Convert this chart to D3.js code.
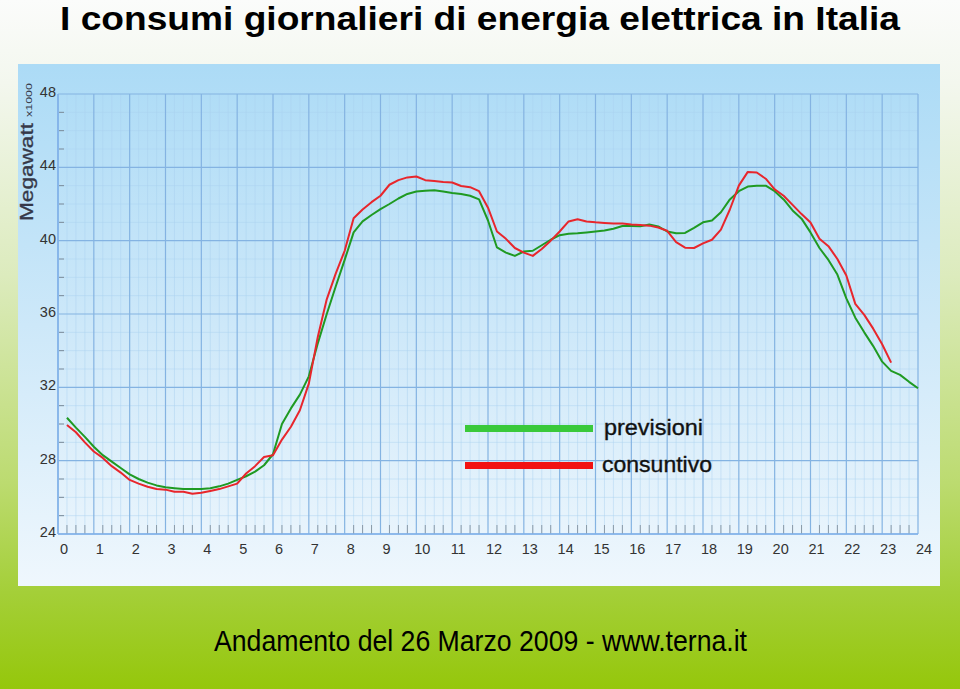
<!DOCTYPE html>
<html><head><meta charset="utf-8">
<script src="https://cdn.jsdelivr.net/npm/d3@7"></script>
<style>html,body{margin:0;padding:0;}svg{display:block;}</style>
</head><body>
<script>
// ---- data (MW x1000), one value every 15 minutes starting 00:15 ----
const quarterStep = 0.25;
const previsioni = [
30.34,29.8,29.3,28.76,28.3,27.95,27.6,27.25,27.0,26.8,26.65,26.55,26.5,26.45,26.45,26.45,
26.5,26.6,26.75,26.95,27.15,27.4,27.75,28.35,30.0,30.85,31.6,32.6,34.4,36.0,37.5,38.95,
40.45,41.05,41.4,41.72,42.0,42.3,42.55,42.68,42.72,42.75,42.68,42.6,42.55,42.45,42.25,41.1,
39.63,39.35,39.17,39.41,39.45,39.75,40.05,40.3,40.38,40.4,40.45,40.5,40.55,40.65,40.8,40.8,
40.78,40.88,40.78,40.5,40.4,40.42,40.7,41.0,41.1,41.55,42.25,42.7,42.95,43.0,43.0,42.7,
42.25,41.65,41.2,40.45,39.6,38.95,38.15,36.85,35.8,35.0,34.25,33.4,32.9,32.68,32.3,31.95];
const consuntivo = [
29.95,29.55,29.0,28.5,28.15,27.7,27.35,26.95,26.75,26.58,26.45,26.42,26.3,26.3,26.2,26.25,
26.35,26.45,26.6,26.75,27.3,27.7,28.2,28.3,29.15,29.85,30.75,32.2,34.75,36.8,38.2,39.45,
41.22,41.7,42.1,42.45,43.05,43.3,43.45,43.5,43.3,43.25,43.2,43.17,42.98,42.92,42.7,41.8,
40.5,40.1,39.6,39.35,39.17,39.55,40.0,40.5,41.05,41.17,41.05,41.0,40.97,40.94,40.94,40.88,
40.86,40.82,40.72,40.54,39.92,39.62,39.6,39.85,40.05,40.6,41.7,43.0,43.75,43.72,43.38,42.8,
42.45,41.95,41.45,40.99,40.1,39.7,39.0,38.1,36.55,35.95,35.2,34.35,33.35];
const hourTicks = [0,1,2,3,4,5,6,7,8,9,10,11,12,13,14,15,16,17,18,19,20,21,22,23,24];
const yTicks = [24,28,32,36,40,44,48];
const seriesNames = ["previsioni","consuntivo"];
const titleText = "I consumi giornalieri di energia elettrica in Italia";
const footerText = "Andamento del 26 Marzo 2009 - www.terna.it";

const W = 960, H = 689;
const svg = d3.select("body").append("svg").attr("width", W).attr("height", H);
const defs = svg.append("defs");

const bg = defs.append("linearGradient").attr("id","bg").attr("x1",0).attr("y1",0).attr("x2",0).attr("y2",1);
[[0,"#fbfcfb"],[0.12,"#f3f7ee"],[0.4,"#dcebbd"],[0.7,"#bcdb70"],[0.86,"#a4cf38"],[1,"#95c70b"]]
  .forEach(([o,c])=>bg.append("stop").attr("offset",o).attr("stop-color",c));
const pg = defs.append("linearGradient").attr("id","pg").attr("x1",0).attr("y1",0).attr("x2",0).attr("y2",1);
[[0,"#acdbf6"],[0.5,"#cde8f9"],[1,"#eff7fd"]]
  .forEach(([o,c])=>pg.append("stop").attr("offset",o).attr("stop-color",c));

svg.append("rect").attr("width",W).attr("height",H).attr("fill","url(#bg)");
svg.append("rect").attr("x",18).attr("y",64).attr("width",922).attr("height",522).attr("fill","url(#pg)");

const x = d3.scaleLinear().domain([0,24]).range([58,918]);
const y = d3.scaleLinear().domain([24,48]).range([534,94]);

// minor grid
const g = svg.append("g");
const quarters = d3.range(0, 24.001, 0.25).filter(h => h % 1 !== 0);
g.selectAll(".mv").data(quarters).join("line")
  .attr("x1",d=>x(d)).attr("x2",d=>x(d)).attr("y1",y(48)).attr("y2",y(24))
  .attr("stroke","#a9d0f0").attr("stroke-opacity",0.45).attr("stroke-width",1);
const minorY = d3.range(25,48).filter(v => v % 4 !== 0);
g.selectAll(".mh").data(minorY).join("line")
  .attr("x1",x(0)).attr("x2",x(24)).attr("y1",d=>y(d)).attr("y2",d=>y(d))
  .attr("stroke","#a9d0f0").attr("stroke-opacity",0.45).attr("stroke-width",1);

// major grid
g.selectAll(".Mv").data(hourTicks).join("line")
  .attr("x1",d=>x(d)).attr("x2",d=>x(d)).attr("y1",y(48)).attr("y2",y(24))
  .attr("stroke","#84b3e2").attr("stroke-width",1.2);
g.selectAll(".Mh").data(yTicks).join("line")
  .attr("x1",x(0)).attr("x2",x(24)).attr("y1",d=>y(d)).attr("y2",d=>y(d))
  .attr("stroke","#84b3e2").attr("stroke-width",1.2);

// small ticks
g.selectAll(".qt").data(quarters).join("line")
  .attr("x1",d=>x(d)).attr("x2",d=>x(d)).attr("y1",y(24)-9).attr("y2",y(24))
  .attr("stroke","#8a9aa8").attr("stroke-width",1);
g.selectAll(".yt").data(minorY).join("line")
  .attr("x1",x(0)+1).attr("x2",x(0)+6).attr("y1",d=>y(d)).attr("y2",d=>y(d))
  .attr("stroke","#7a8a98").attr("stroke-width",1);

// axis lines
g.append("line").attr("x1",x(0)).attr("x2",x(24)).attr("y1",y(24)).attr("y2",y(24))
  .attr("stroke","#7fb0ea").attr("stroke-width",1.6);
g.append("line").attr("x1",x(0)).attr("x2",x(0)).attr("y1",y(48)).attr("y2",y(24))
  .attr("stroke","#7fb0ea").attr("stroke-width",1.4);

// tick labels
const lab = svg.append("g").attr("font-family","'Liberation Sans Narrow','Liberation Sans',Arial,sans-serif")
  .attr("font-size",14.5).attr("fill","#333");
lab.selectAll(".xl").data(hourTicks).join("text")
  .attr("x",d=>x(d)+6).attr("y",554).attr("text-anchor","middle").text(d=>d);
lab.selectAll(".yl").data(yTicks).join("text")
  .attr("x",56).attr("y",d=>y(d)+3).attr("text-anchor","end").text(d=>d);

// y axis title
const yt = svg.append("g").attr("transform","translate(33,221) rotate(-90)")
  .attr("font-family","'Liberation Sans',Arial,sans-serif").attr("fill","#353848");
yt.append("text").attr("x",0).attr("y",0).attr("font-size",18)
  .attr("stroke","#353848").attr("stroke-width",0.3)
  .attr("textLength",98).attr("lengthAdjust","spacingAndGlyphs").text("Megawatt");
yt.append("text").attr("x",104).attr("y",-1).attr("font-size",9)
  .attr("textLength",34).attr("lengthAdjust","spacingAndGlyphs").text("x1000");

// lines
const hourOf = i => (i+1)*quarterStep;
const line = d3.line().x((d,i)=>x(hourOf(i))).y(d=>y(d));
svg.append("path").datum(previsioni).attr("d",line).attr("fill","none")
  .attr("stroke","#1f9a22").attr("stroke-width",2).attr("stroke-linejoin","round");
svg.append("path").datum(consuntivo).attr("d",line).attr("fill","none")
  .attr("stroke","#e8262c").attr("stroke-width",2).attr("stroke-linejoin","round");

// legend
const lg = svg.append("g");
const legColors = ["#3ac93a","#f21212"];
const legY = [428.5,465.5];
const legW = [99,110];
seriesNames.forEach((n,i)=>{
  lg.append("line").attr("x1",465).attr("x2",593).attr("y1",legY[i]).attr("y2",legY[i])
    .attr("stroke",legColors[i]).attr("stroke-width",7);
  lg.append("text").attr("x",i===0?604:602).attr("y",legY[i]+6)
    .attr("font-family","'Liberation Sans',Arial,sans-serif").attr("font-size",22)
    .attr("fill","#111").attr("stroke","#111").attr("stroke-width",0.35)
    .attr("textLength",legW[i]).attr("lengthAdjust","spacingAndGlyphs").text(n);
});

// title & footer
svg.append("text").attr("x",60).attr("y",30).attr("font-family","'Liberation Sans',Arial,sans-serif")
  .attr("font-weight","bold").attr("font-size",33).attr("fill","#000")
  .attr("textLength",840).attr("lengthAdjust","spacingAndGlyphs").text(titleText);
svg.append("text").attr("x",214).attr("y",651).attr("font-family","'Liberation Sans',Arial,sans-serif")
  .attr("font-size",29).attr("fill","#000")
  .attr("textLength",533).attr("lengthAdjust","spacingAndGlyphs").text(footerText);
</script>
</body></html>
